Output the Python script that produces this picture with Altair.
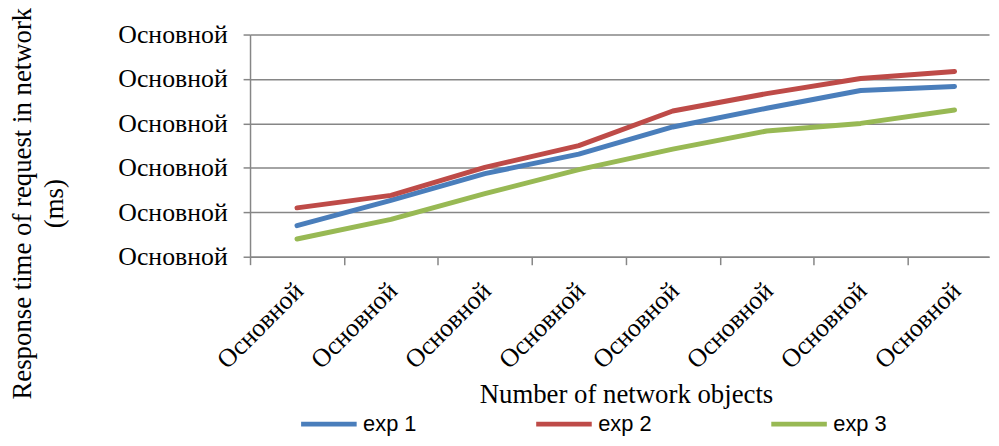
import altair as alt
import pandas as pd

categories = ["Основной"] * 8
series = ["exp 1", "exp 2", "exp 3"]
exp1 = [0.70, 1.27, 1.87, 2.31, 2.92, 3.34, 3.74, 3.83]
exp2 = [1.10, 1.38, 2.01, 2.50, 3.28, 3.67, 4.01, 4.17]
exp3 = [0.40, 0.84, 1.42, 1.96, 2.42, 2.83, 3.00, 3.30]
y_ticks = [0, 1, 2, 3, 4, 5]
tick_label = "Основной"
colors = ["#4A7EBB", "#BE4B48", "#98B954"]

rows = []
for name, vals in zip(series, [exp1, exp2, exp3]):
    for i, v in enumerate(vals):
        rows.append({"idx": i + 0.5, "value": v, "series": name})
df = pd.DataFrame(rows)

W = 745
H = 224
step = 94.7
serif = "Liberation Serif"

chart = alt.Chart(df).mark_line(strokeWidth=5, strokeCap="round", strokeJoin="round").encode(
    x=alt.X("idx:Q",
            scale=alt.Scale(domain=[0, W / step], nice=False, zero=False),
            axis=alt.Axis(values=list(range(len(categories))),
                          labelExpr=f"'{tick_label}'",
                          labelAngle=-45, labelAlign="right", labelBaseline="middle",
                          labelOffset=49, labelPadding=22, labelOverlap=False,
                          labelFont=serif, labelFontSize=26, labelColor="black",
                          grid=False, tickSize=8, tickColor="#868686", tickWidth=1.5,
                          domainColor="#868686", domainWidth=1.5,
                          title="Number of network objects",
                          titleFont=serif, titleFontSize=27, titleFontWeight="normal",
                          titleColor="black", titleX=379, titleY=147,
                          titleBaseline="alphabetic", titleAlign="center")),
    y=alt.Y("value:Q",
            scale=alt.Scale(domain=[0, 5], nice=False),
            axis=alt.Axis(values=y_ticks, labelExpr=f"'{tick_label}'",
                          labelFont=serif, labelFontSize=26, labelColor="black",
                          labelPadding=16,
                          grid=True, gridColor="#868686", gridWidth=1.5,
                          tickSize=7, tickColor="#868686", tickWidth=1.5,
                          domainColor="#868686", domainWidth=1.5,
                          title=["Response time of request in network", "(ms)"],
                          titleFont=serif, titleFontSize=27, titleFontWeight="normal",
                          titleColor="black", titleAngle=-90, titleX=-221, titleY=170,
                          titleAlign="center", titleBaseline="alphabetic",
                          titleLineHeight=32)),
    color=alt.Color("series:N",
                    scale=alt.Scale(domain=series, range=colors),
                    legend=alt.Legend(title=None, orient="none", legendX=49, legendY=362,
                                      direction="horizontal", symbolType="stroke",
                                      symbolSize=3136, symbolStrokeWidth=5,
                                      labelFont="Liberation Sans", labelFontSize=22,
                                      labelColor="black", labelOffset=4,
                                      columnPadding=110, padding=0)),
).properties(
    width=W, height=H,
    autosize=alt.AutoSizeParams(type="none"),
    padding={"left": 244, "top": 25, "right": 2, "bottom": 181},
).configure_view(stroke=None)

chart.save("out.html", embed_options={"renderer": "svg", "actions": False})
